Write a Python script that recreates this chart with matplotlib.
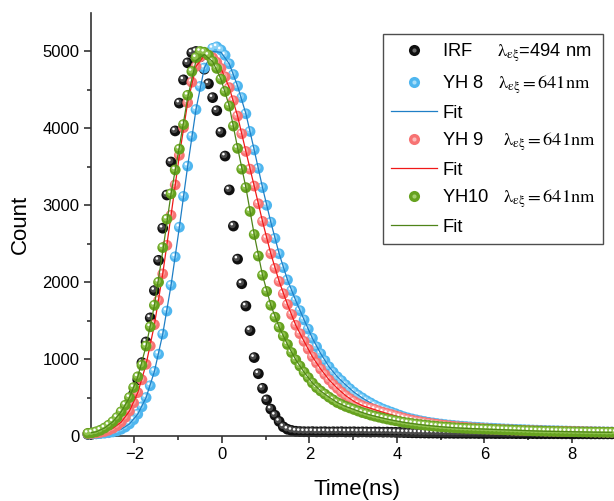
import numpy as np
import matplotlib
matplotlib.use("Agg")
import matplotlib.pyplot as plt
from matplotlib.lines import Line2D
from matplotlib.legend_handler import HandlerTuple
from matplotlib.transforms import offset_copy

plt.rcParams['font.family'] = ['Liberation Sans', 'DejaVu Sans']
plt.rcParams['mathtext.fontset'] = 'stix'

# time axis of the decay traces (ns), one channel every 0.095 ns
time_ns = -3.06 + 0.095 * np.arange(128)
# fit curves sampled on every second channel
time_fit = time_ns[::2]

irf = [21, 24, 30, 40, 54, 75, 107, 150, 212, 296,
       407, 550, 732, 954, 1223, 1536, 1892, 2284, 2702, 3134,
       3563, 3967, 4329, 4631, 4852, 4982, 5000, 4930, 4770, 4580,
       4400, 4230, 3950, 3640, 3200, 2730, 2300, 1980, 1690, 1370,
       1020, 810, 620, 470, 350, 270, 190, 120, 88, 72,
       62, 58, 56, 55, 57, 54, 55, 56, 53, 55,
       54, 56, 53, 54, 55, 52, 54, 53, 51, 53,
       52, 50, 51, 49, 48, 47, 45, 44, 42, 41,
       40, 39, 38, 38, 37, 37, 36, 36, 35, 35,
       35, 34, 34, 34, 33, 33, 33, 33, 32, 32,
       32, 32, 32, 31, 31, 31, 31, 31, 30, 30,
       30, 30, 30, 30, 29, 29, 29, 29, 29, 29,
       29, 28, 28, 28, 28, 28, 28, 28]

yh8 = [27, 28, 29, 32, 37, 43, 53, 67, 88, 117,
       157, 212, 285, 380, 500, 654, 840, 1064, 1325, 1625,
       1960, 2330, 2715, 3115, 3510, 3895, 4245, 4545, 4785, 4955,
       5040, 5060, 5020, 4950, 4840, 4700, 4550, 4400, 4190, 3960,
       3720, 3480, 3230, 3000, 2780, 2570, 2370, 2190, 2030, 1890,
       1760, 1630, 1510, 1390, 1270, 1160, 1070, 980, 900, 830,
       770, 720, 665, 615, 570, 530, 495, 460, 430, 400,
       375, 350, 330, 310, 290, 270, 250, 235, 222, 210,
       198, 188, 178, 170, 162, 155, 148, 142, 137, 132,
       127, 123, 119, 115, 112, 108, 105, 102, 99, 96,
       93, 91, 88, 86, 84, 82, 80, 78, 76, 74,
       72, 70, 69, 68, 66, 65, 63, 62, 61, 59,
       58, 57, 56, 55, 54, 53, 52, 51]

yh9 = [31, 34, 39, 47, 59, 76, 100, 134, 180, 242,
       325, 431, 565, 731, 932, 1171, 1448, 1763, 2108, 2480,
       2870, 3265, 3650, 4010, 4335, 4600, 4805, 4930, 4960, 4950,
       4920, 4860, 4780, 4670, 4530, 4360, 4160, 3930, 3700, 3470,
       3250, 3020, 2790, 2570, 2370, 2180, 2010, 1850, 1710, 1580,
       1440, 1330, 1230, 1130, 1030, 950, 870, 800, 730, 670,
       620, 570, 525, 485, 450, 420, 395, 375, 360, 345,
       325, 308, 292, 278, 262, 248, 232, 218, 206, 195,
       185, 176, 167, 159, 151, 144, 138, 132, 126, 121,
       116, 112, 108, 104, 100, 97, 94, 91, 88, 86,
       83, 81, 79, 77, 75, 73, 71, 70, 68, 67,
       65, 64, 63, 62, 61, 60, 59, 58, 57, 56,
       55, 54, 53, 52, 51, 50, 50, 49]

yh10 = [35, 42, 55, 75, 104, 140, 185, 240, 315, 400,
        500, 630, 770, 920, 1170, 1420, 1700, 2000, 2450, 2820,
        3150, 3460, 3730, 4050, 4430, 4740, 4920, 5000, 4990, 4950,
        4870, 4780, 4640, 4480, 4290, 4030, 3740, 3470, 3230, 2920,
        2620, 2340, 2090, 1880, 1700, 1545, 1415, 1300, 1190, 1085,
        990, 910, 830, 760, 690, 630, 585, 545, 505, 470,
        435, 410, 385, 365, 345, 325, 305, 290, 272, 258,
        245, 232, 220, 209, 198, 188, 178, 170, 162, 155,
        148, 142, 136, 130, 125, 120, 116, 112, 108, 105,
        102, 99, 97, 95, 93, 91, 89, 87, 85, 83,
        81, 79, 77, 75, 73, 71, 69, 67, 65, 64,
        62, 61, 60, 59, 58, 57, 56, 55, 54, 53,
        52, 51, 50, 50, 49, 48, 48, 47]

fit8 = [27, 29, 37, 53, 88, 157, 285, 500, 840, 1325,
        1960, 2715, 3510, 4245, 4785, 5000, 4990, 4840, 4550, 4190,
        3720, 3230, 2780, 2370, 2030, 1760, 1510, 1270, 1070, 900,
        770, 665, 570, 495, 430, 375, 330, 290, 250, 222,
        198, 178, 162, 148, 137, 127, 119, 112, 105, 99,
        93, 88, 84, 80, 76, 72, 69, 66, 63, 61,
        58, 56, 54, 52]

fit9 = [31, 39, 59, 100, 180, 325, 565, 932, 1448, 2108,
        2870, 3650, 4335, 4805, 4950, 4920, 4780, 4530, 4160, 3700,
        3250, 2790, 2370, 2010, 1710, 1440, 1230, 1030, 870, 730,
        620, 525, 450, 395, 360, 325, 292, 262, 232, 206,
        185, 167, 151, 138, 126, 116, 108, 100, 94, 88,
        83, 79, 75, 71, 68, 65, 63, 61, 59, 57,
        55, 53, 51, 50]

fit10 = [35, 55, 104, 185, 315, 500, 770, 1170, 1700, 2400,
         3150, 3760, 4400, 4880, 4960, 4870, 4640, 4290, 3750, 3230,
         2620, 2090, 1700, 1415, 1190, 990, 830, 690, 585, 505,
         435, 385, 345, 305, 272, 245, 220, 198, 178, 162,
         148, 136, 125, 116, 108, 102, 97, 93, 89, 85,
         81, 77, 73, 69, 65, 62, 60, 58, 56, 54,
         52, 50, 49, 48]

lam = '$\\mathrm{\\lambda_{\\varepsilon\\xi}}$'
nm641 = '$\\mathrm{{=}641nm}$'
labels = ['IRF     ' + lam + '=494 nm',
          'YH 8   ' + lam + nm641,
          'Fit',
          'YH 9    ' + lam + nm641,
          'Fit',
          'YH10   ' + lam + nm641,
          'Fit']

fig = plt.figure(figsize=(6.14, 5.01), dpi=100)
# the plot frame runs a little past the right edge of the picture
ax = fig.add_axes([0.1474, 0.1297, 0.869, 0.8443])

hl1 = offset_copy(ax.transData, fig=fig, x=-0.7, y=0.8, units='points')
hl2 = offset_copy(ax.transData, fig=fig, x=-1.2, y=1.4, units='points')


def balls(x, y, body, shade, z):
    ax.scatter(x, y, s=60, color=body, edgecolors='none', zorder=z, clip_on=False)
    ax.scatter(x, y, s=22, color=shade, edgecolors='none', zorder=z, clip_on=False,
               transform=hl1)
    ax.scatter(x, y, s=3.5, color='white', edgecolors='none', zorder=z, clip_on=False,
               transform=hl2)


balls(time_ns, irf, '#101010', '#4a4a4a', 2)
balls(time_ns, yh8, '#4fb6ef', '#8ad2f7', 3)
ax.plot(time_fit, fit8, color='#1f7fc6', lw=0.9, zorder=3.5)
balls(time_ns, yh9, '#f77373', '#fb9f9f', 4)
ax.plot(time_fit, fit9, color='#f01818', lw=0.9, zorder=4.5)
balls(time_ns, yh10, '#66a21f', '#8fc24e', 5)
ax.plot(time_fit, fit10, color='#4f8418', lw=0.9, zorder=5.5)

ax.set_xlim(-3, 9.19)
ax.set_ylim(0, 5500)
ax.set_xticks([-2, 0, 2, 4, 6, 8])
ax.set_xticks([-3, -1, 1, 3, 5, 7, 9], minor=True)
ax.set_yticks([0, 1000, 2000, 3000, 4000, 5000])
ax.set_yticks([500, 1500, 2500, 3500, 4500], minor=True)
for s in ['top', 'right']:
    ax.spines[s].set_visible(False)
for s in ['left', 'bottom']:
    ax.spines[s].set_linewidth(1.2)
    ax.spines[s].set_color('#333333')
ax.tick_params(which='major', length=5, width=1.2, color='#333333',
               labelsize=12, pad=3)
ax.tick_params(which='minor', length=3, width=1.2, color='#333333')
ax.set_xlabel('Time(ns)', fontsize=16, labelpad=12)
ax.set_ylabel('Count', fontsize=16, labelpad=8)


def mk(c):
    return Line2D([], [], ls='none', marker='o', ms=8, mfc=c, mec='none')


def dot(c):
    return Line2D([], [], ls='none', marker='o', ms=3, mfc=c, mec='none')


handles = [(mk('#101010'), dot('#6a6a6a')),
           (mk('#4fb6ef'), dot('#a8def9')),
           Line2D([], [], color='#1f7fc6', lw=0.9),
           (mk('#f77373'), dot('#fdbaba')),
           Line2D([], [], color='#f01818', lw=0.9),
           (mk('#66a21f'), dot('#a4cf6c')),
           Line2D([], [], color='#4f8418', lw=0.9)]

leg = ax.legend(handles, labels, loc='upper left',
                bbox_to_anchor=(383 / 614, 1 - 34 / 501),
                bbox_transform=fig.transFigure, borderaxespad=0,
                fontsize=13.2, frameon=True, fancybox=False,
                handlelength=2.5, handletextpad=0.3, labelspacing=0.48,
                borderpad=0.42, handler_map={tuple: HandlerTuple(ndivide=1)})
leg.get_frame().set_edgecolor('#222222')
leg.get_frame().set_linewidth(1.0)
leg.set_zorder(10)

fig.savefig('out.png', dpi=100)
